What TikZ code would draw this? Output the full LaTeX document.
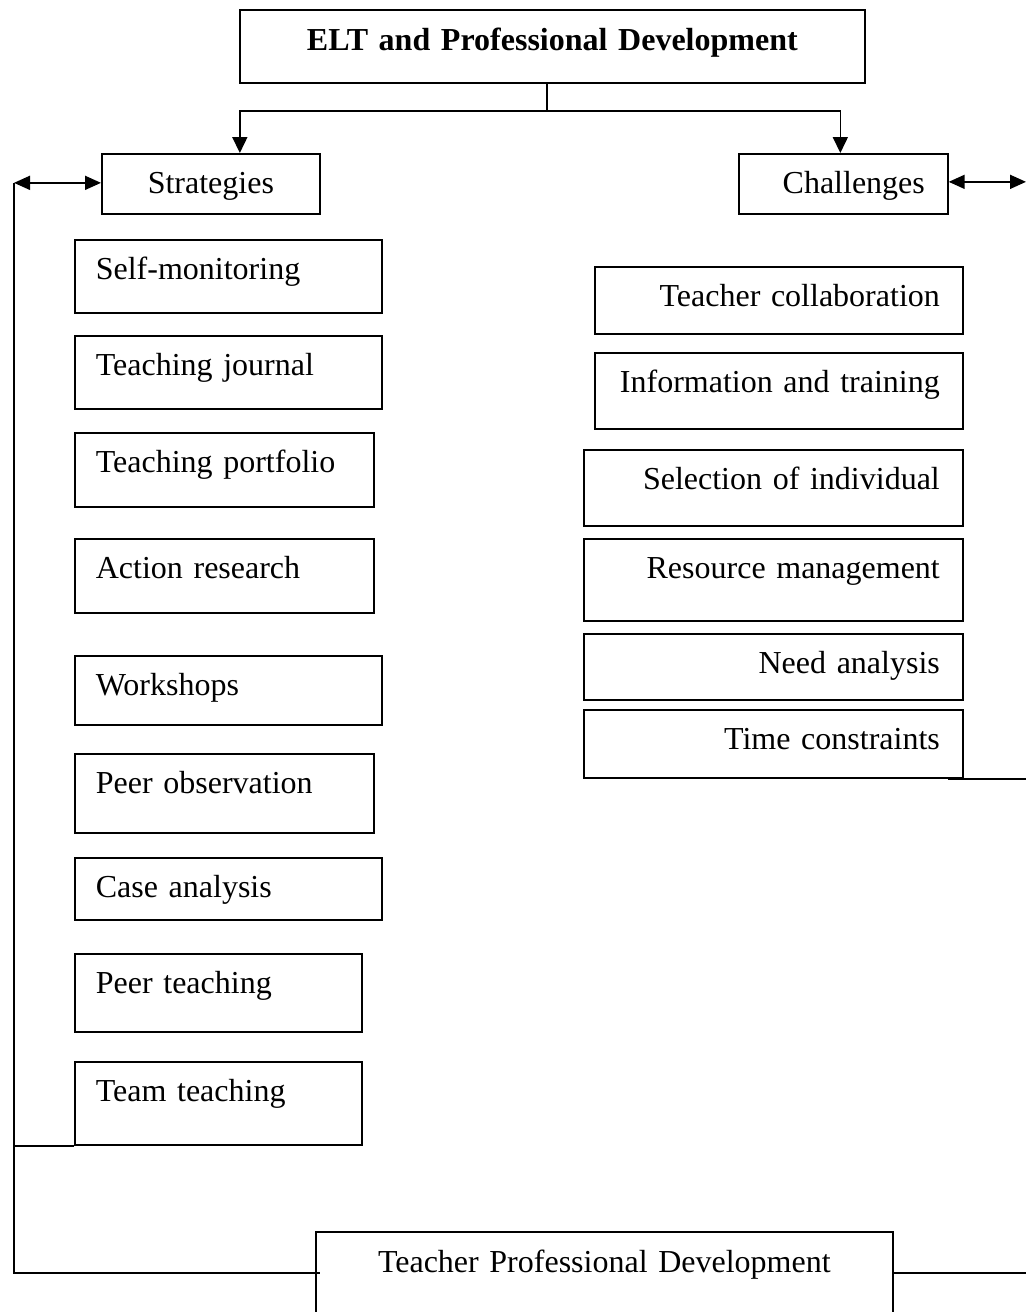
\documentclass[tikz,border=0pt]{standalone}
\usepackage{fontspec}
\setmainfont{Liberation Serif}
\usetikzlibrary{arrows.meta}
\begin{document}
\begin{tikzpicture}[x=1pt,y=-1pt,line width=1.7pt,
	every node/.style={font=\fontsize{32pt}{38pt}\selectfont},
	box/.style={draw,anchor=north west,inner ysep=0pt,text height=40pt},
	cbox/.style 2 args={box,inner xsep=0pt,text width=#1,text depth=#2-40pt,align=center},
	lbox/.style 2 args={box,inner xsep=21pt,text width=#1-42pt,text depth=#2-40pt,align=left},
	rbox/.style 2 args={box,inner xsep=23pt,text width=#1-46pt,text depth=#2-40pt,align=right},
	tip/.style={-{Triangle[length=16pt,width=15pt]}},
	both/.style={{Triangle[length=16pt,width=14pt]}-{Triangle[length=16pt,width=14pt]}}]
		\clip (0,0) rectangle (1026,1312);
		\coordinate (lleft) at (14,0);
		\coordinate (rright) at (1026,0);
		\coordinate (fork) at (547,111);
		\node [cbox={625pt}{72pt},text height=41pt,font=\fontsize{32pt}{38pt}\selectfont\bfseries] (title) at (239,9) {ELT and Professional Development};
		\node [cbox={218pt}{60pt}] (strat) at (101,153) {Strategies};
		\node [rbox={209pt}{60pt}] (chal) at (738,153) {Challenges};
		\node [lbox={307pt}{73pt}] (self) at (74,239) {Self-monitoring};
		\node [lbox={307pt}{73pt}] (journal) at (74,335) {Teaching journal};
		\node [lbox={299pt}{74pt}] (portfolio) at (74,432) {Teaching portfolio};
		\node [lbox={299pt}{74pt}] (action) at (74,538) {Action research};
		\node [lbox={307pt}{69pt}] (workshop) at (74,655) {Workshops};
		\node [lbox={299pt}{79pt}] (observe) at (74,753) {Peer observation};
		\node [lbox={307pt}{62pt}] (case) at (74,857) {Case analysis};
		\node [lbox={287pt}{78pt}] (peer) at (74,953) {Peer teaching};
		\node [lbox={287pt}{83pt}] (team) at (74,1061) {Team teaching};
		\node [rbox={368pt}{67pt}] (collab) at (594,266) {Teacher collaboration};
		\node [rbox={368pt}{76pt}] (info) at (594,352) {Information and training};
		\node [rbox={379pt}{76pt}] (select) at (583,449) {Selection of individual};
		\node [rbox={379pt}{82pt}] (resource) at (583,538) {Resource management};
		\node [rbox={379pt}{66pt}] (need) at (583,633) {Need analysis};
		\node [rbox={379pt}{68pt}] (time) at (583,709) {Time constraints};
		\node [cbox={577pt}{120pt},text height=41pt] (tpd) at (315,1231) {Teacher Professional Development};
		\draw (title.south -| fork) -- (fork);
		\draw [tip] (fork) -| ([xshift=29pt]strat.north);
		\draw [tip] (fork) -| ([xshift=-3pt]chal.north);
		\draw [both] ([yshift=1pt]strat.west -| lleft) -- ([yshift=1pt]strat.west);
		\draw [both] ([yshift=2pt]chal.east) -- ([yshift=2pt]chal.east -| rright);
		\draw ([yshift=1pt]strat.west -| lleft) |- ([xshift=5pt]tpd.base west);
		\draw (team.south west) -- (team.south west -| lleft);
		\draw ([xshift=-16pt]time.south east) -- (time.south east -| rright);
		\draw (tpd.base east) -- (tpd.base east -| rright);
\end{tikzpicture}
\end{document}
